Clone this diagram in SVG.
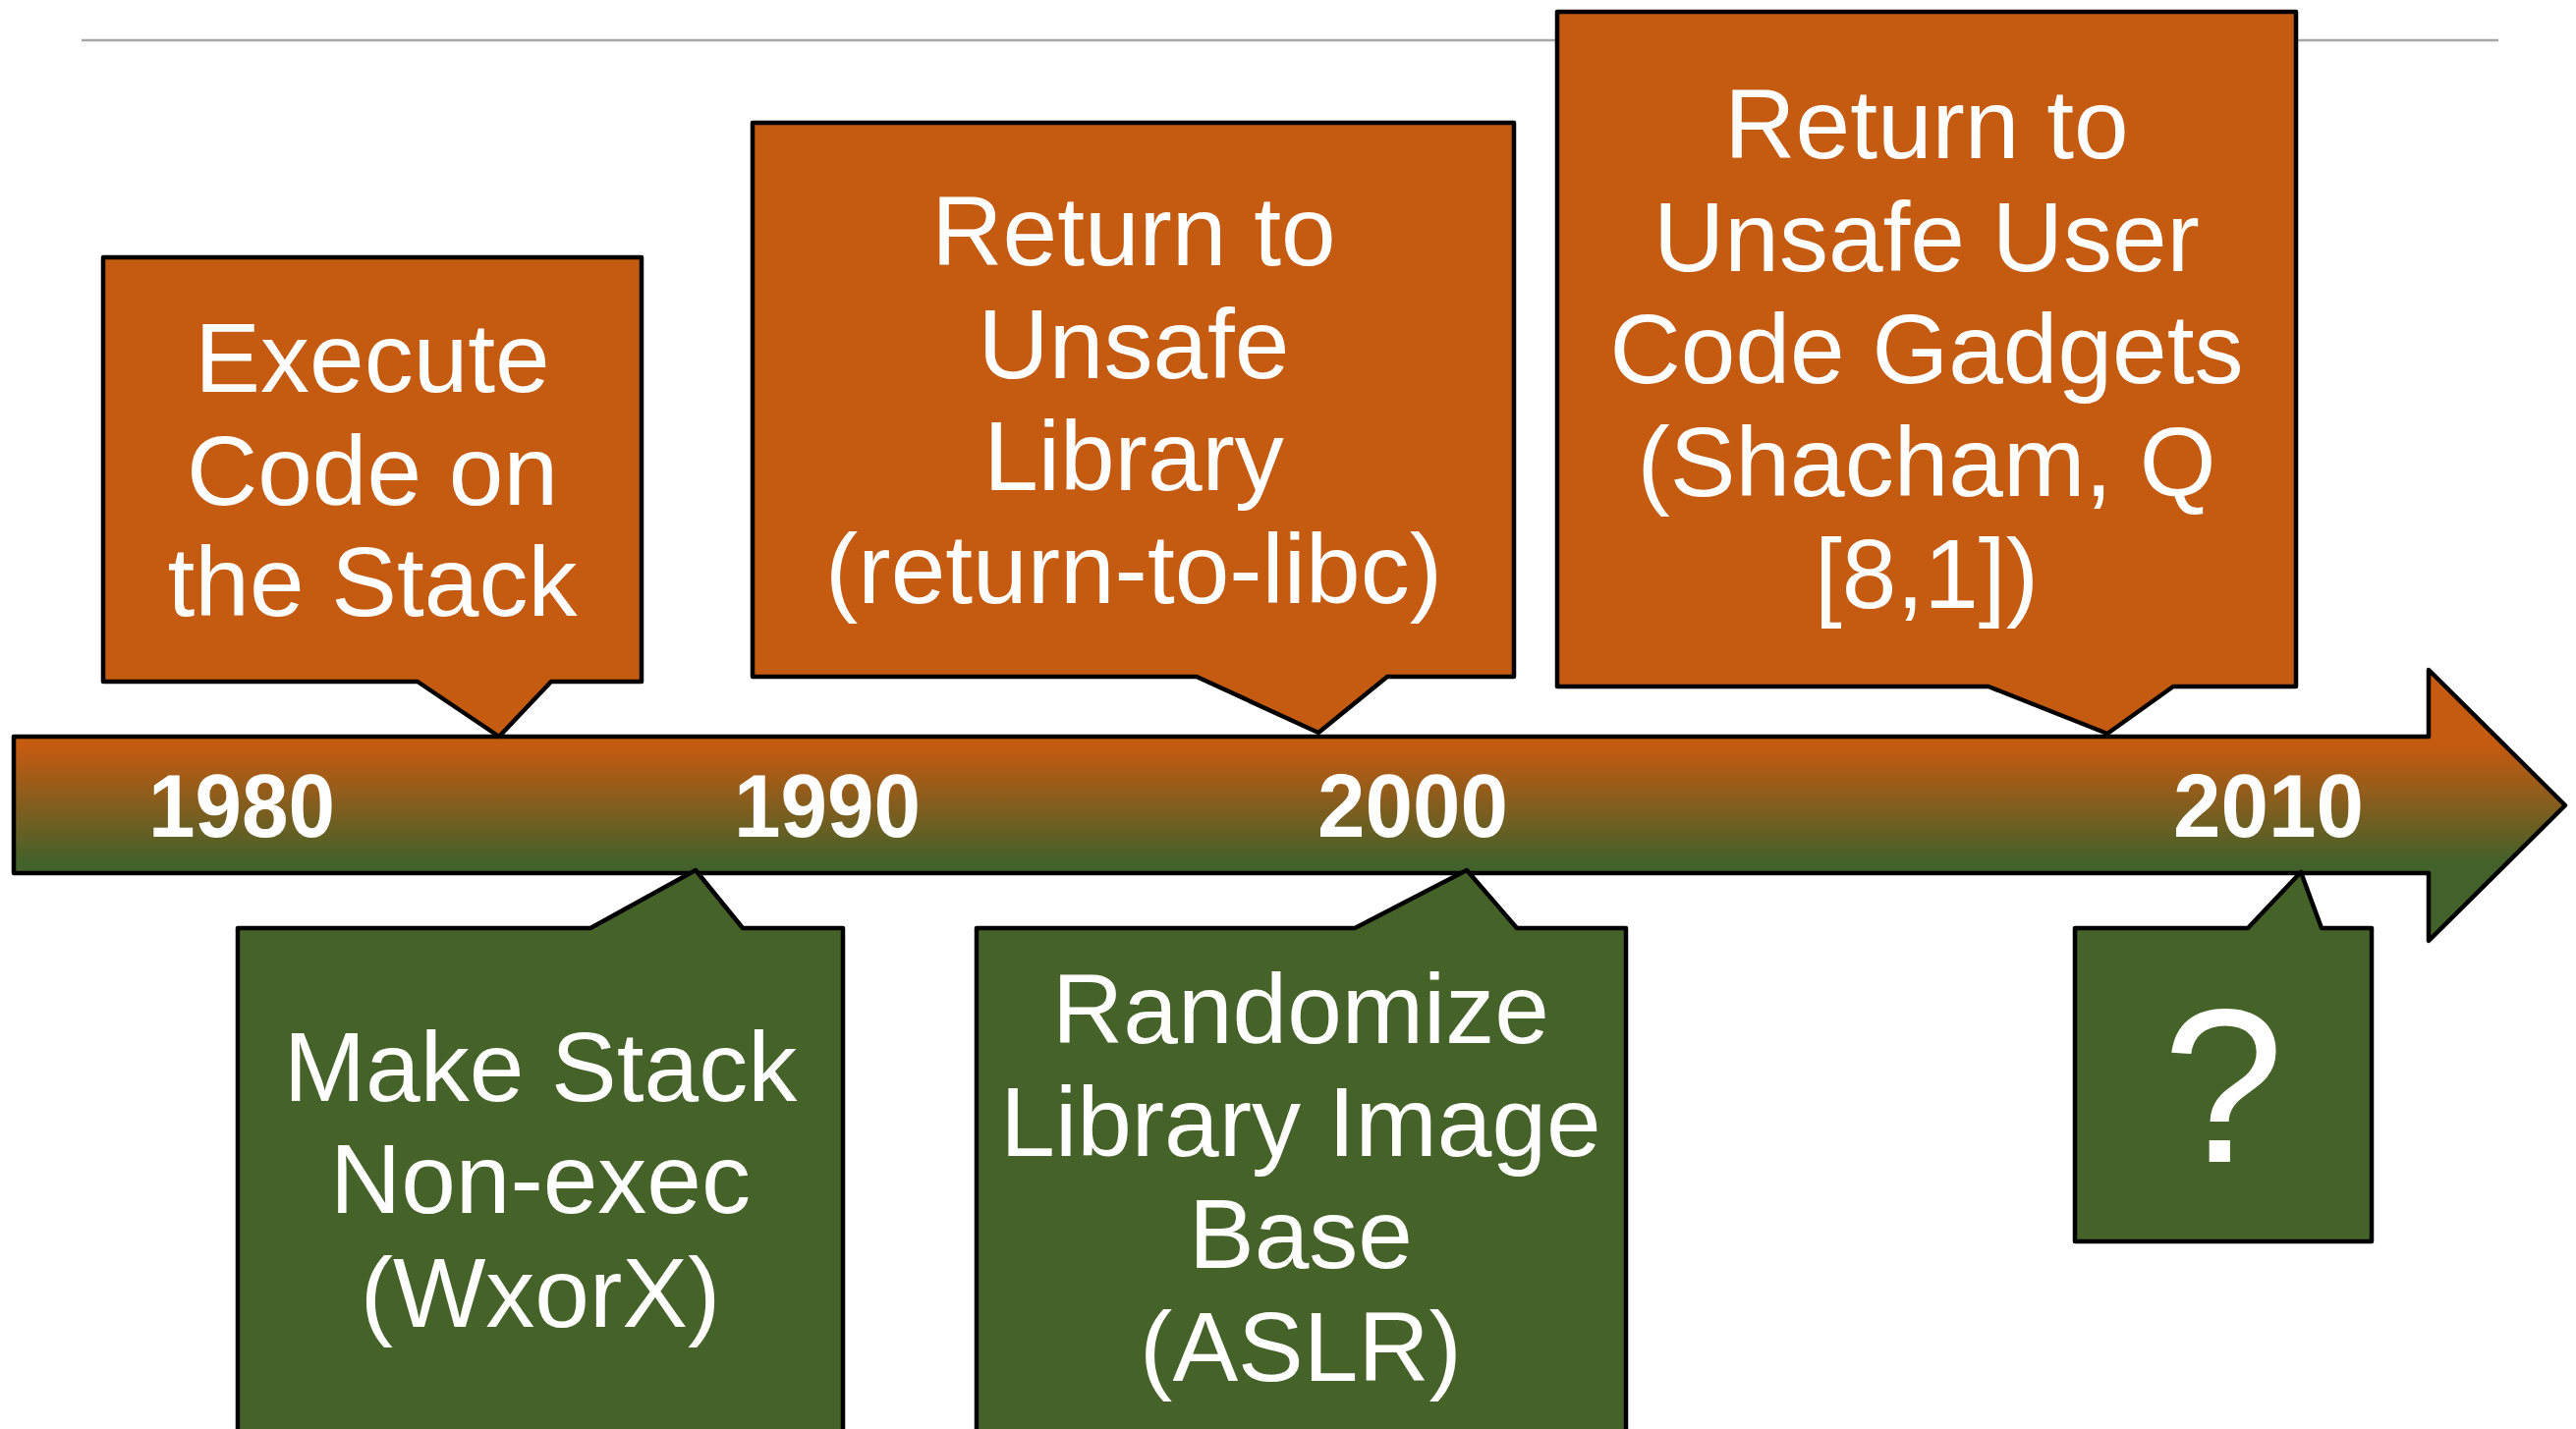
<svg xmlns="http://www.w3.org/2000/svg" width="2622" height="1455" viewBox="0 0 2622 1455">
  <defs>
    <linearGradient id="barFill" gradientUnits="userSpaceOnUse" x1="0" y1="760" x2="0" y2="878">
      <stop offset="0" stop-color="#C55A11"/>
      <stop offset="1" stop-color="#43612A"/>
    </linearGradient>
    <style>
      .callout { stroke: #000; stroke-width: 4.5; stroke-linejoin: round; }
      .attack { fill: #C55A11; }
      .defense { fill: #456328; }
      .label { font-family: "Liberation Sans", Arial, sans-serif; font-size: 100px; fill: #fff; text-anchor: middle; }
      .year { font-family: "Liberation Sans", Arial, sans-serif; font-size: 90px; font-weight: bold; fill: #fff; text-anchor: middle; }
    </style>
  </defs>
  <rect width="2622" height="1455" fill="#fff"/>

  <!-- header rule -->
  <line x1="83" y1="41" x2="2543" y2="41" stroke="#A6A6A6" stroke-width="2.5"/>

  <!-- timeline arrow -->
  <g id="timeline">
    <path d="M14,750 H2472 V682 L2611,820 L2472,958 V889 H14 Z" fill="url(#barFill)" stroke="#000" stroke-width="4.5" stroke-linejoin="round"/>
    <text class="year" x="246" y="852" textLength="190" lengthAdjust="spacingAndGlyphs">1980</text>
    <text class="year" x="842" y="852" textLength="190" lengthAdjust="spacingAndGlyphs">1990</text>
    <text class="year" x="1438" y="852" textLength="194" lengthAdjust="spacingAndGlyphs">2000</text>
    <text class="year" x="2309" y="852" textLength="194" lengthAdjust="spacingAndGlyphs">2010</text>
  </g>

  <!-- attacks above the line -->
  <g id="execute-on-stack">
    <path class="callout attack" d="M105,262 H653 V694 H561 L508,750 L425,694 H105 Z"/>
    <text class="label" x="379" y="399">Execute</text>
    <text class="label" x="379" y="514">Code on</text>
    <text class="label" x="379" y="627">the Stack</text>
  </g>

  <g id="return-to-libc">
    <path class="callout attack" d="M766,125 H1541 V689 H1412 L1342,746 L1218,689 H766 Z"/>
    <text class="label" x="1154" y="270">Return to</text>
    <text class="label" x="1154" y="385">Unsafe</text>
    <text class="label" x="1154" y="499">Library</text>
    <text class="label" x="1154" y="614">(return-to-libc)</text>
  </g>

  <g id="return-to-gadgets">
    <path class="callout attack" d="M1585,12 H2337 V699 H2212 L2145,747 L2024,699 H1585 Z"/>
    <text class="label" x="1961" y="161">Return to</text>
    <text class="label" x="1961" y="276">Unsafe User</text>
    <text class="label" x="1961" y="390">Code Gadgets</text>
    <text class="label" x="1961" y="505">(Shacham, Q</text>
    <text class="label" x="1961" y="619">[8,1])</text>
  </g>

  <!-- defenses below the line -->
  <g id="non-exec-stack">
    <path class="callout defense" d="M242,945 H601 L708,886 L756,945 H858 V1475 H242 Z"/>
    <text class="label" x="550" y="1121">Make Stack</text>
    <text class="label" x="550" y="1235">Non-exec</text>
    <text class="label" x="550" y="1351">(WxorX)</text>
  </g>

  <g id="aslr">
    <path class="callout defense" d="M994,945 H1379 L1493,886 L1544,945 H1655 V1475 H994 Z"/>
    <text class="label" x="1324" y="1062">Randomize</text>
    <text class="label" x="1324" y="1177">Library Image</text>
    <text class="label" x="1324" y="1291">Base</text>
    <text class="label" x="1324" y="1406">(ASLR)</text>
  </g>

  <g id="unknown">
    <path class="callout defense" d="M2112,945 H2288 L2342,888 L2363,945 H2414 V1264 H2112 Z"/>
    <text class="label" x="2263" y="1183" style="font-size:222px">?</text>
  </g>
</svg>
